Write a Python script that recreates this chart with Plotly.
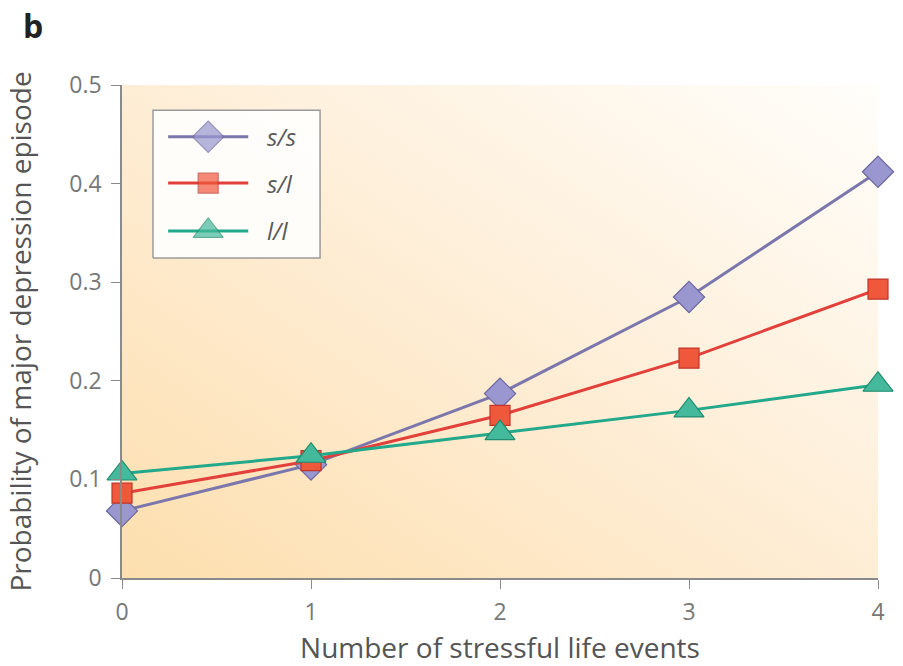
import base64
import plotly.graph_objects as go

# Number of stressful life events
events = [0, 1, 2, 3, 4]

# Probability of a major depression episode by 5-HTTLPR genotype
genotypes = ["s/s", "s/l", "l/l"]
prob_ss = [0.068, 0.115, 0.187, 0.285, 0.412]
prob_sl = [0.086, 0.119, 0.165, 0.223, 0.293]
prob_ll = [0.106, 0.124, 0.147, 0.170, 0.196]

y_ticks = [0, 0.1, 0.2, 0.3, 0.4, 0.5]
y_tick_text = ["0", "0.1", "0.2", "0.3", "0.4", "0.5"]

styles = {
    "s/s": dict(symbol="diamond", size=24, fill="#9a96d0", edge="#6b679e", line="#7b77ad"),
    "s/l": dict(symbol="square", size=20, fill="#f0583c", edge="#c0352a", line="#e2403a"),
    "l/l": dict(symbol="triangle-up", size=26, fill="#45b99c", edge="#1f8c6e", line="#22a88a"),
}
series = {"s/s": prob_ss, "s/l": prob_sl, "l/l": prob_ll}

# Warm diagonal wash behind the plotting area
svg = (
    '<svg xmlns="http://www.w3.org/2000/svg" width="200" height="200" preserveAspectRatio="none">'
    '<defs><linearGradient id="g" x1="0" y1="1" x2="1" y2="0">'
    '<stop offset="0" stop-color="#fddfae"/>'
    '<stop offset="0.45" stop-color="#feecd2"/>'
    '<stop offset="1" stop-color="#fffefb"/>'
    '</linearGradient></defs>'
    '<rect width="200" height="200" fill="url(#g)"/></svg>'
)
bg_uri = "data:image/svg+xml;base64," + base64.b64encode(svg.encode()).decode()

fig = go.Figure()

for name in genotypes:
    st = styles[name]
    fig.add_trace(go.Scatter(
        x=events, y=series[name], mode="lines+markers", name=name,
        line=dict(color=st["line"], width=3),
        marker=dict(symbol=st["symbol"], size=st["size"], color=st["fill"],
                    line=dict(color=st["edge"], width=1.2)),
        cliponaxis=False, showlegend=False,
    ))

# Key box on an overlay axis spanning the plot area (0-1 in both directions)
bx0, bx1, by0, by1 = 0.041, 0.262, 0.649, 0.949
fig.add_trace(go.Scatter(
    x=[bx0, bx1, bx1, bx0, bx0], y=[by0, by0, by1, by1, by0], mode="lines",
    xaxis="x2", yaxis="y2", fill="toself", fillcolor="rgba(255,255,255,0.88)",
    line=dict(color="#9a9a9a", width=1.5), showlegend=False, hoverinfo="skip",
))

key_rows = [0.895, 0.801, 0.704]
for name, yr in zip(genotypes, key_rows):
    st = styles[name]
    fig.add_trace(go.Scatter(
        x=[0.061, 0.114, 0.167], y=[yr, yr, yr], mode="lines+markers",
        xaxis="x2", yaxis="y2", showlegend=False, hoverinfo="skip",
        line=dict(color=st["line"], width=3),
        marker=dict(symbol=st["symbol"], size=[0, st["size"], 0], color=st["fill"],
                    line=dict(color=st["edge"], width=1.2)),
        cliponaxis=False,
    ))
    fig.add_annotation(
        x=0.189, y=yr, xref="x2", yref="y2", text=f"<i>{name}</i>",
        showarrow=False, xanchor="left", yanchor="middle",
        font=dict(size=24, color="#5a5a5a", family="Open Sans"),
    )

fig.add_layout_image(dict(source=bg_uri, xref="x", yref="y", x=0, y=0.5, sizex=4, sizey=0.5,
                          sizing="stretch", layer="below", xanchor="left", yanchor="top"))

fig.add_annotation(x=-0.133, y=1.12, xref="paper", yref="paper", text="<b>b</b>",
                   showarrow=False, xanchor="left", yanchor="middle",
                   font=dict(size=32, color="#222222", family="Open Sans"))

axis_common = dict(showgrid=False, zeroline=False, showline=True, linecolor="#8a8a8a", linewidth=1.5,
                   ticks="outside", ticklen=9, tickcolor="#8a8a8a", tickwidth=1.2,
                   automargin=False,
                   tickfont=dict(size=23, color="#777777", family="Open Sans"))

fig.update_layout(
    width=903, height=666,
    margin=dict(l=122, r=25, t=85, b=88),
    paper_bgcolor="white", plot_bgcolor="white",
    font=dict(family="Open Sans"),
    xaxis=dict(range=[0, 4], tickvals=events, ticktext=[str(e) for e in events],
               ticklabelstandoff=4,
               title=dict(text="Number of stressful life events", standoff=14,
                          font=dict(size=28, color="#555555")),
               **axis_common),
    yaxis=dict(range=[0, 0.5], tickvals=y_ticks, ticktext=y_tick_text,
               ticklabelstandoff=5,
               title=dict(text="Probability of major depression episode", standoff=30,
                          font=dict(size=28, color="#555555")),
               **axis_common),
    xaxis2=dict(range=[0, 1], overlaying="x", visible=False, fixedrange=True),
    yaxis2=dict(range=[0, 1], overlaying="y", visible=False, fixedrange=True),
)

fig.write_html("out.html")
